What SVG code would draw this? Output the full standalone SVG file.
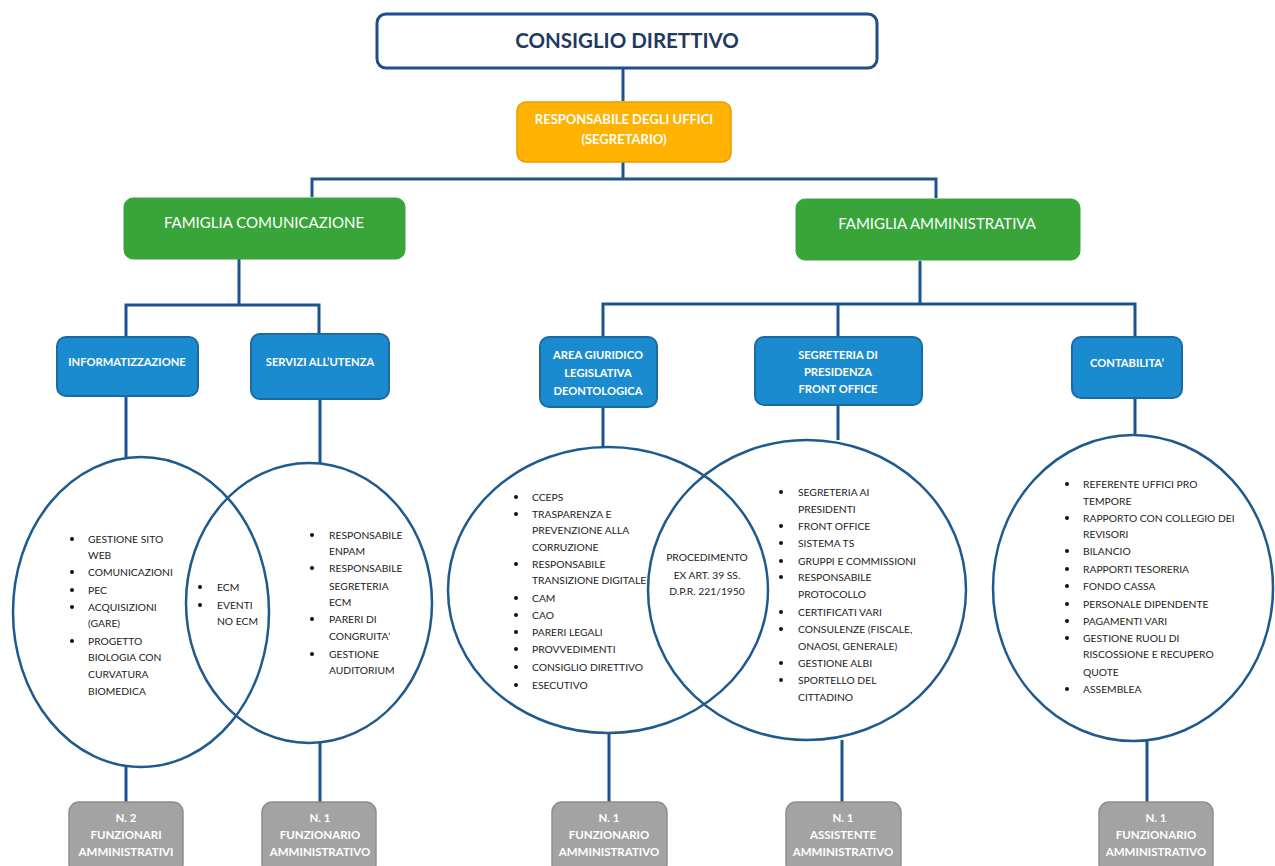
<svg xmlns="http://www.w3.org/2000/svg" width="1275" height="866" viewBox="0 0 1275 866">
<style>
text{font-family:Lato,"Open Sans","Liberation Sans",sans-serif}
.con{fill:none;stroke:#1c5490;stroke-width:3}
.ell{fill:none;stroke:#1f5a8f;stroke-width:2.5}
.blue{fill:#1b8bcf;stroke:#1a6aa5;stroke-width:2}
.green{fill:#38a43a;stroke:#38a43a;stroke-width:1}
.gray{fill:#a3a3a3;stroke:#8e8e8e;stroke-width:1.5}
.bt{fill:#fff;font-weight:700;font-size:11.2px;text-anchor:middle}
.ot{fill:#fff;font-weight:700;font-size:13px;text-anchor:middle}
.gt{fill:#fff;font-size:15px;text-anchor:middle}
.gy{fill:#fff;font-weight:700;font-size:11.5px;text-anchor:middle}
.li{fill:#222;font-size:10.3px}
.lc{fill:#222;font-size:10.3px;text-anchor:middle}
.b{fill:#111}
</style>
<rect width="1275" height="866" fill="#fff"/>
<g id="connectors">
<path class="con" d="M623 68V101"/>
<path class="con" d="M623 162V179M312 197V179H936V198"/>
<path class="con" d="M239 259V305M126 337V305H319V334"/>
<path class="con" d="M920 261V304M603 337V304H1135V337M838 304V337"/>
<path class="con" d="M126 396V457M320 399V463M603 407V447M838 405V440M1135 398V435"/>
<path class="con" d="M126 767V802M320 743V802M609 732V802M842 740V802M1147 740V802"/>
</g>
<g id="consiglio">
<rect x="377" y="14" width="500" height="54" rx="9" fill="#fff" stroke="#1f4e8a" stroke-width="3"/>
<text x="627" y="48" font-size="20.5" font-weight="700" fill="#1f3864" text-anchor="middle">CONSIGLIO DIRETTIVO</text>
</g>
<g id="responsabile">
<rect x="517" y="102" width="214" height="60" rx="9" fill="#ffb300" stroke="#e39e00" stroke-width="1.5"/>
<text x="624" y="124" class="ot">RESPONSABILE DEGLI UFFICI</text>
<text x="624" y="144" class="ot">(SEGRETARIO)</text>
</g>
<g id="fam-com">
<rect class="green" x="124" y="198" width="281" height="61" rx="9"/>
<text class="gt" x="264" y="228">FAMIGLIA COMUNICAZIONE</text>
</g>
<g id="fam-amm">
<rect class="green" x="796" y="199" width="284" height="61" rx="9"/>
<text class="gt" x="937" y="229">FAMIGLIA AMMINISTRATIVA</text>
</g>
<g id="informatizzazione">
<rect class="blue" x="57" y="337" width="141" height="59" rx="9"/>
<text class="bt" x="127" y="366">INFORMATIZZAZIONE</text>
</g>
<g id="servizi">
<rect class="blue" x="251" y="334" width="138" height="65" rx="9"/>
<text class="bt" x="320" y="366">SERVIZI ALL’UTENZA</text>
</g>
<g id="area-giuridico">
<rect class="blue" x="540" y="337" width="117" height="70" rx="9"/>
<text class="bt" x="598" y="359">AREA GIURIDICO</text>
<text class="bt" x="598" y="377">LEGISLATIVA</text>
<text class="bt" x="598" y="395">DEONTOLOGICA</text>
</g>
<g id="segreteria">
<rect class="blue" x="755" y="337" width="167" height="68" rx="9"/>
<text class="bt" x="838" y="359">SEGRETERIA DI</text>
<text class="bt" x="838" y="376">PRESIDENZA</text>
<text class="bt" x="838" y="393">FRONT OFFICE</text>
</g>
<g id="contabilita">
<rect class="blue" x="1072" y="337" width="110" height="61" rx="9"/>
<text class="bt" x="1127" y="367">CONTABILITA’</text>
</g>
<g id="venn-comunicazione">
<ellipse class="ell" cx="141" cy="612" rx="128" ry="155"/>
<ellipse class="ell" cx="309" cy="603" rx="123" ry="140"/>
<g class="b"><circle cx="72" cy="539" r="2"/><circle cx="72" cy="572" r="2"/><circle cx="72" cy="590" r="2"/><circle cx="72" cy="607" r="2"/><circle cx="72" cy="641" r="2"/></g>
<text class="li" x="88" y="543">GESTIONE SITO</text>
<text class="li" x="88" y="559">WEB</text>
<text class="li" x="88" y="576">COMUNICAZIONI</text>
<text class="li" x="88" y="594">PEC</text>
<text class="li" x="88" y="611">ACQUISIZIONI</text>
<text class="li" x="88" y="627">(GARE)</text>
<text class="li" x="88" y="645">PROGETTO</text>
<text class="li" x="88" y="661">BIOLOGIA CON</text>
<text class="li" x="88" y="678">CURVATURA</text>
<text class="li" x="88" y="695">BIOMEDICA</text>
<g class="b"><circle cx="200" cy="587" r="2"/><circle cx="200" cy="605" r="2"/></g>
<text class="li" x="217" y="591">ECM</text>
<text class="li" x="217" y="609">EVENTI</text>
<text class="li" x="217" y="625">NO ECM</text>
<g class="b"><circle cx="312" cy="535" r="2"/><circle cx="312" cy="568" r="2"/><circle cx="312" cy="619" r="2"/><circle cx="312" cy="654" r="2"/></g>
<text class="li" x="329" y="539">RESPONSABILE</text>
<text class="li" x="329" y="555">ENPAM</text>
<text class="li" x="329" y="572">RESPONSABILE</text>
<text class="li" x="329" y="590">SEGRETERIA</text>
<text class="li" x="329" y="606">ECM</text>
<text class="li" x="329" y="623">PARERI DI</text>
<text class="li" x="329" y="640">CONGRUITA’</text>
<text class="li" x="329" y="658">GESTIONE</text>
<text class="li" x="329" y="674">AUDITORIUM</text>
</g>
<g id="venn-amministrativa">
<ellipse class="ell" cx="608" cy="590" rx="160" ry="143"/>
<ellipse class="ell" cx="807" cy="590" rx="159" ry="150"/>
<g class="b"><circle cx="516" cy="497" r="2"/><circle cx="516" cy="514" r="2"/><circle cx="516" cy="564" r="2"/><circle cx="516" cy="598" r="2"/><circle cx="516" cy="615" r="2"/><circle cx="516" cy="632" r="2"/><circle cx="516" cy="649" r="2"/><circle cx="516" cy="667" r="2"/><circle cx="516" cy="685" r="2"/></g>
<text class="li" x="532" y="501">CCEPS</text>
<text class="li" x="532" y="518">TRASPARENZA E</text>
<text class="li" x="532" y="534">PREVENZIONE ALLA</text>
<text class="li" x="532" y="551">CORRUZIONE</text>
<text class="li" x="532" y="568">RESPONSABILE</text>
<text class="li" x="532" y="584">TRANSIZIONE DIGITALE</text>
<text class="li" x="532" y="602">CAM</text>
<text class="li" x="532" y="619">CAO</text>
<text class="li" x="532" y="636">PARERI LEGALI</text>
<text class="li" x="532" y="653">PROVVEDIMENTI</text>
<text class="li" x="532" y="671">CONSIGLIO DIRETTIVO</text>
<text class="li" x="532" y="689">ESECUTIVO</text>
<text class="lc" x="707" y="561">PROCEDIMENTO</text>
<text class="lc" x="707" y="579">EX ART. 39 SS.</text>
<text class="lc" x="707" y="595">D.P.R. 221/1950</text>
<g class="b"><circle cx="781" cy="492" r="2"/><circle cx="781" cy="526" r="2"/><circle cx="781" cy="543" r="2"/><circle cx="781" cy="561" r="2"/><circle cx="781" cy="577" r="2"/><circle cx="781" cy="612" r="2"/><circle cx="781" cy="629" r="2"/><circle cx="781" cy="663" r="2"/><circle cx="781" cy="680" r="2"/></g>
<text class="li" x="798" y="496">SEGRETERIA AI</text>
<text class="li" x="798" y="513">PRESIDENTI</text>
<text class="li" x="798" y="530">FRONT OFFICE</text>
<text class="li" x="798" y="547">SISTEMA TS</text>
<text class="li" x="798" y="565">GRUPPI E COMMISSIONI</text>
<text class="li" x="798" y="581">RESPONSABILE</text>
<text class="li" x="798" y="598">PROTOCOLLO</text>
<text class="li" x="798" y="616">CERTIFICATI VARI</text>
<text class="li" x="798" y="633">CONSULENZE (FISCALE,</text>
<text class="li" x="798" y="650">ONAOSI, GENERALE)</text>
<text class="li" x="798" y="667">GESTIONE ALBI</text>
<text class="li" x="798" y="684">SPORTELLO DEL</text>
<text class="li" x="798" y="701">CITTADINO</text>
</g>
<g id="circle-contabilita">
<ellipse class="ell" cx="1133" cy="588" rx="140" ry="153"/>
<g class="b"><circle cx="1067" cy="484" r="2"/><circle cx="1067" cy="518" r="2"/><circle cx="1067" cy="551" r="2"/><circle cx="1067" cy="569" r="2"/><circle cx="1067" cy="586" r="2"/><circle cx="1067" cy="604" r="2"/><circle cx="1067" cy="621" r="2"/><circle cx="1067" cy="638" r="2"/><circle cx="1067" cy="689" r="2"/></g>
<text class="li" x="1083" y="488">REFERENTE UFFICI PRO</text>
<text class="li" x="1083" y="505">TEMPORE</text>
<text class="li" x="1083" y="522">RAPPORTO CON COLLEGIO DEI</text>
<text class="li" x="1083" y="538">REVISORI</text>
<text class="li" x="1083" y="555">BILANCIO</text>
<text class="li" x="1083" y="573">RAPPORTI TESORERIA</text>
<text class="li" x="1083" y="590">FONDO CASSA</text>
<text class="li" x="1083" y="608">PERSONALE DIPENDENTE</text>
<text class="li" x="1083" y="625">PAGAMENTI VARI</text>
<text class="li" x="1083" y="642">GESTIONE RUOLI DI</text>
<text class="li" x="1083" y="658">RISCOSSIONE E RECUPERO</text>
<text class="li" x="1083" y="676">QUOTE</text>
<text class="li" x="1083" y="693">ASSEMBLEA</text>
</g>
<g id="staff-1">
<rect class="gray" x="69" y="802" width="114" height="72" rx="10"/>
<text class="gy" x="126" y="822">N. 2</text>
<text class="gy" x="126" y="839">FUNZIONARI</text>
<text class="gy" x="126" y="856">AMMINISTRATIVI</text>
</g>
<g id="staff-2">
<rect class="gray" x="262" y="802" width="114" height="72" rx="10"/>
<text class="gy" x="320" y="822">N. 1</text>
<text class="gy" x="320" y="839">FUNZIONARIO</text>
<text class="gy" x="320" y="856">AMMINISTRATIVO</text>
</g>
<g id="staff-3">
<rect class="gray" x="552" y="802" width="115" height="72" rx="10"/>
<text class="gy" x="609" y="822">N. 1</text>
<text class="gy" x="609" y="839">FUNZIONARIO</text>
<text class="gy" x="609" y="856">AMMINISTRATIVO</text>
</g>
<g id="staff-4">
<rect class="gray" x="786" y="802" width="115" height="72" rx="10"/>
<text class="gy" x="843" y="822">N. 1</text>
<text class="gy" x="843" y="839">ASSISTENTE</text>
<text class="gy" x="843" y="856">AMMINISTRATIVO</text>
</g>
<g id="staff-5">
<rect class="gray" x="1099" y="802" width="114" height="72" rx="10"/>
<text class="gy" x="1156" y="822">N. 1</text>
<text class="gy" x="1156" y="839">FUNZIONARIO</text>
<text class="gy" x="1156" y="856">AMMINISTRATIVO</text>
</g>
</svg>
